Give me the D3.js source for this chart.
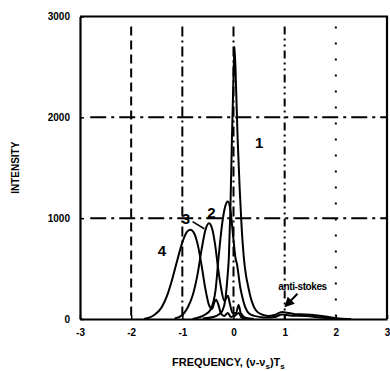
<!DOCTYPE html>
<html>
<head>
<meta charset="utf-8">
<script src="https://cdn.jsdelivr.net/npm/d3@7"></script>
<style>
  body { margin: 0; background: #fff; }
  svg { display: block; font-family: "Liberation Sans", Arial, sans-serif; }
</style>
</head>
<body>
<script>
// frequency (x) / intensity (y)
let curve1 = [[-0.6, 5], [-0.4, 20], [-0.3, 40], [-0.22, 80], [-0.16, 190], [-0.12, 400], [-0.09, 620],
  [-0.06, 1100], [-0.03, 1800], [0.0, 2400], [0.02, 2700], [0.05, 2300], [0.08, 1800], [0.12, 1300],
  [0.16, 900], [0.2, 620], [0.3, 290], [0.43, 92], [0.55, 45], [0.68, 30], [0.8, 40], [0.95, 70],
  [1.05, 62], [1.2, 48], [1.4, 45], [1.6, 38], [1.8, 25], [2.0, 8], [2.3, 0]];
let curve2 = [[-0.8, 0], [-0.65, 20], [-0.55, 45], [-0.45, 92], [-0.35, 290], [-0.29, 620], [-0.22, 950],
  [-0.16, 1120], [-0.11, 1165], [-0.06, 1080], [0.0, 785], [0.04, 600], [0.07, 540], [0.09, 470],
  [0.13, 320], [0.17, 224], [0.22, 130], [0.27, 75], [0.35, 40], [0.45, 26], [0.6, 15], [0.8, 20],
  [0.95, 45], [1.1, 35], [1.4, 30], [1.7, 15], [2.0, 0]];
let curve3 = [[-1.15, 5], [-1.0, 40], [-0.9, 110], [-0.8, 230], [-0.7, 450], [-0.62, 700], [-0.55, 880],
  [-0.48, 950], [-0.42, 900], [-0.36, 740], [-0.3, 500], [-0.24, 300], [-0.18, 180], [-0.14, 210],
  [-0.11, 230], [-0.07, 150], [-0.02, 60], [0.05, 60], [0.1, 140], [0.14, 60], [0.25, 10], [0.4, 0]];
let curve4 = [[-1.75, 0], [-1.55, 40], [-1.4, 120], [-1.3, 230], [-1.2, 390], [-1.1, 580], [-1.0, 760],
  [-0.9, 870], [-0.84, 885], [-0.78, 860], [-0.7, 740], [-0.62, 520], [-0.55, 300], [-0.48, 140],
  [-0.42, 100], [-0.37, 170], [-0.34, 190], [-0.3, 150], [-0.25, 60], [-0.18, 30], [-0.11, 60],
  [-0.05, 20], [0.02, 30], [0.1, 60], [0.16, 15], [0.3, 0]];
let curves = [curve1, curve2, curve3, curve4];

let curveLabels = ['1', '2', '3', '4'];
let labelPos = [[0.5, 1700], [-0.43, 1000], [-0.93, 940], [-1.4, 620]];

let xTicks = [-3, -2, -1, 0, 1, 2, 3];
let yTicks = [0, 1000, 2000, 3000];
let xGrid = [-2, -1, 0, 1, 2];
let yGrid = [1000, 2000];

let width = 390, height = 371;
let margin = {top: 16.5, right: 3, bottom: 52, left: 80};

let svg = d3.select('body').append('svg')
    .attr('width', width)
    .attr('height', height);

let x = d3.scaleLinear().domain([-3, 3]).range([margin.left, width - margin.right]);
let y = d3.scaleLinear().domain([0, 3000]).range([height - margin.bottom, margin.top]);

let g = svg.append('g');

// grid lines, dash-dot like the scan
let vDash = {'-2': '9,5', '-1': '10,4,2,4', '0': '10,4,2,4', '1': '8,4,2,4,2,4', '2': '2,14'};
g.selectAll('.vgrid')
    .data(xGrid)
    .enter().append('line')
    .attr('class', 'vgrid')
    .attr('x1', d => x(d)).attr('x2', d => x(d))
    .attr('y1', y(2900)).attr('y2', y(0))
    .attr('stroke', '#000')
    .attr('stroke-width', 2)
    .attr('stroke-dasharray', d => vDash[d]);

g.selectAll('.hgrid')
    .data(yGrid)
    .enter().append('line')
    .attr('class', 'hgrid')
    .attr('x1', x(-2.8)).attr('x2', x(3))
    .attr('y1', d => y(d)).attr('y2', d => y(d))
    .attr('stroke', '#000')
    .attr('stroke-width', 2)
    .attr('stroke-dasharray', '16,5,3,5');

// axes
let xAxis = d3.axisBottom(x).tickValues(xTicks).tickFormat(d => String(d))
    .tickSizeInner(-4).tickSizeOuter(0).tickPadding(10);
let yAxis = d3.axisLeft(y).tickValues(yTicks).tickFormat(d => String(d))
    .tickSizeInner(-4).tickSizeOuter(0).tickPadding(10);

let gx = svg.append('g')
    .attr('transform', `translate(0,${y(0)})`)
    .call(xAxis);
let gy = svg.append('g')
    .attr('transform', `translate(${x(-3)},0)`)
    .call(yAxis);

[gx, gy].forEach(a => {
  a.select('.domain').attr('stroke-width', 2.2);
  a.selectAll('.tick line').attr('stroke-width', 1.5);
  a.selectAll('.tick text')
      .style('font-size', '10px')
      .style('font-weight', 'bold')
      .style('font-family', '"Liberation Sans", Arial, sans-serif')
      .attr('fill', '#000');
});

// top and right frame
svg.append('path')
    .attr('d', `M${x(-3)},${y(3000)}H${x(3)}V${y(0)}`)
    .attr('fill', 'none')
    .attr('stroke', '#000')
    .attr('stroke-width', 2.2);

// spectra
let line = d3.line()
    .x(d => x(d[0]))
    .y(d => y(d[1]))
    .curve(d3.curveMonotoneX);

g.selectAll('.spec')
    .data(curves)
    .enter().append('path')
    .attr('class', 'spec')
    .attr('d', line)
    .attr('fill', 'none')
    .attr('stroke', '#000')
    .attr('stroke-width', 2);

// curve numbers
svg.selectAll('.clab')
    .data(curveLabels)
    .enter().append('text')
    .attr('class', 'clab')
    .attr('x', (d, i) => x(labelPos[i][0]))
    .attr('y', (d, i) => y(labelPos[i][1]))
    .attr('text-anchor', 'middle')
    .attr('font-size', 15)
    .attr('font-weight', 'bold')
    .text(d => d);

// leader from "3"
svg.append('line')
    .attr('x1', x(-0.8)).attr('y1', y(965))
    .attr('x2', x(-0.57)).attr('y2', y(895))
    .attr('stroke', '#000').attr('stroke-width', 1.5);

// anti-stokes note with arrow
svg.append('defs').append('marker')
    .attr('id', 'arr')
    .attr('viewBox', '0 0 10 10')
    .attr('refX', 8).attr('refY', 5)
    .attr('markerWidth', 5).attr('markerHeight', 5)
    .attr('orient', 'auto')
    .append('path').attr('d', 'M0,0L10,5L0,10z').attr('fill', '#000');

svg.append('text')
    .attr('x', x(1.35))
    .attr('y', y(290))
    .attr('text-anchor', 'middle')
    .attr('font-size', 10)
    .attr('font-weight', 'bold')
    .attr('letter-spacing', -0.4)
    .text('anti-stokes');

svg.append('line')
    .attr('x1', x(1.25)).attr('y1', y(250))
    .attr('x2', x(1.02)).attr('y2', y(130))
    .attr('stroke', '#000').attr('stroke-width', 2)
    .attr('marker-end', 'url(#arr)');

// axis titles
svg.append('text')
    .attr('transform', `translate(19,${y(1500)}) rotate(-90)`)
    .attr('text-anchor', 'middle')
    .attr('font-size', 10)
    .attr('font-weight', 'bold')
    .text('INTENSITY');

let xt = svg.append('text')
    .attr('x', x(-0.1))
    .attr('y', 366)
    .attr('text-anchor', 'middle')
    .attr('font-size', 11)
    .attr('font-weight', 'bold');
xt.append('tspan').text('FREQUENCY, (ν-ν');
xt.append('tspan').attr('font-size', 8).attr('dy', 3).text('s');
xt.append('tspan').attr('dy', -3).text(')T');
xt.append('tspan').attr('font-size', 8).attr('dy', 3).text('s');
</script>
</body>
</html>
